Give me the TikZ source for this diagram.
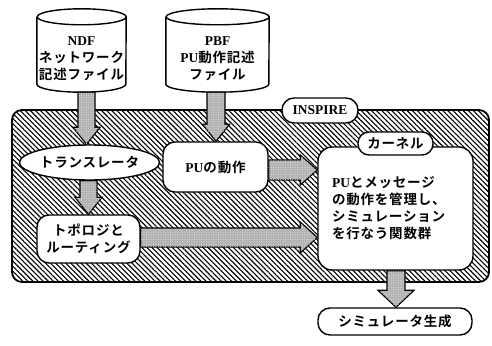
\documentclass[tikz,border=0pt]{standalone}
\usepackage{fontspec}
\setmainfont{Liberation Serif}
\newfontfamily\jp{Noto Sans CJK JP}[BoldFont={Noto Sans CJK JP Bold}, LetterSpace=6]
\usetikzlibrary{patterns.meta,calc,backgrounds,shapes.geometric}
\newcommand\J[1]{{\jp #1}}
% vertical block arrow: #1 x offset, #2 shaft half width, #3 head half width, #4 from, #5 to
\newcommand\vblk[5]{%
  \draw[barrow] let \p1=(#4), \p2=(#5) in
    (\x1+#1-#2,\y1) -- (\x1+#1-#2,\y2+17pt) -- (\x1+#1-#3,\y2+17pt) -- (\x1+#1,\y2)
    -- (\x1+#1+#3,\y2+17pt) -- (\x1+#1+#2,\y2+17pt) -- (\x1+#1+#2,\y1) -- cycle;}
% horizontal block arrow: #1 y offset, #2 shaft half width, #3 head half width, #4 from, #5 to
\newcommand\hblk[5]{%
  \draw[barrow] let \p1=(#4), \p2=(#5) in
    (\x1,\y1+#1+#2) -- (\x2-17pt,\y1+#1+#2) -- (\x2-17pt,\y1+#1+#3) -- (\x2,\y1+#1)
    -- (\x2-17pt,\y1+#1-#3) -- (\x2-17pt,\y1+#1-#2) -- (\x1,\y1+#1-#2) -- cycle;}
% cylinder outline round a node: #1 node, #2 x radius
\newcommand\cyl[2]{%
  \draw[line width=1.4pt, fill=white] ([yshift=8pt]#1.north west) -- ([yshift=8pt]#1.south west)
    arc[start angle=180,end angle=360,x radius=#2,y radius=8pt] -- ([yshift=8pt]#1.north east)
    arc[start angle=0,end angle=180,x radius=#2,y radius=8pt]
    arc[start angle=180,end angle=360,x radius=#2,y radius=8pt];}
\begin{document}
\begin{tikzpicture}[x=1pt,y=1pt,
  txt/.style={font=\bfseries\fontsize{13.5}{17}\selectfont, align=center, inner sep=0pt},
  box/.style={txt, draw, line width=1.4pt, fill=white, rounded corners=12pt},
  label/.style={txt, draw, line width=1.4pt, fill=white, rounded corners=11pt},
  barrow/.style={draw, line width=1.2pt, fill=gray!60, line join=miter,
    postaction={pattern={Dots[distance=2.4pt,radius=0.5pt]}, pattern color=white!80!gray}},
  frame/.style={draw, line width=1.8pt, rounded corners=10pt,
    pattern={Lines[angle=-45,distance=3.6pt,line width=1.1pt]}}]
\useasboundingbox (0,0) rectangle (492,345);
% cylinders (text nodes)
\node[txt, minimum width=89pt, minimum height=67pt] (ndf) at (81.5,286.5)
  {NDF\\ \J{ネットワーク}\\ \J{記述ファイル}};
\node[txt, minimum width=103pt, minimum height=67pt] (pbf) at (217.5,286.5)
  {PBF\\ PU\J{動作記述}\\ \J{ファイル}};
% inner nodes
\node[txt, ellipse, draw, line width=1.4pt, fill=white, minimum width=115pt, minimum height=35pt, inner sep=0pt] (trans) at (89.5,182.5) {\J{トランスレータ}};
\node[box, minimum width=105pt, minimum height=50pt] (pu) at (215.5,178) {PU\J{の動作}};
\node[box, minimum width=103pt, minimum height=48pt] (topo) at (88.5,106) {\J{トポロジと}\\ \J{ルーティング}};
\node[box, rounded corners=14pt, minimum width=155pt, minimum height=123pt, text width=127pt, align=left] (kern) at (395.5,136.5)
  {PU\J{とメッセージ}\\ \J{の動作を管理し、}\\ \J{シミュレーション}\\ \J{を行なう関数群}};
\node[label, minimum width=75pt, minimum height=23pt] (kernlab) at (395.5,201.5) {\J{カーネル}};
\node[label, rounded corners=12pt, minimum width=76pt, minimum height=25pt] (inspire) at (320,234.5) {INSPIRE};
\node[box, minimum width=154pt, minimum height=27pt] (out) at (395,23.5) {\J{シミュレータ生成}};
% background: hatched frame and cylinders
\begin{pgfonlayer}{background}
  \path[frame] (12,235) rectangle (489,63);
  \cyl{ndf}{44.5pt}
  \cyl{pbf}{51.5pt}
\end{pgfonlayer}
% block arrows
\vblk{5pt}{8.5pt}{13.5pt}{ndf.south}{trans.north}
\vblk{-1.5pt}{9pt}{13.5pt}{pbf.south}{pu.north}
\vblk{-1pt}{8.5pt}{13.5pt}{trans.south}{topo.north}
\hblk{-3pt}{10pt}{15pt}{pu.east}{kern.west}
\hblk{1.5pt}{9.5pt}{15.5pt}{topo.east}{kern.west}
\vblk{0.5pt}{9pt}{18pt}{kern.south}{out.north}
\end{tikzpicture}
\end{document}
